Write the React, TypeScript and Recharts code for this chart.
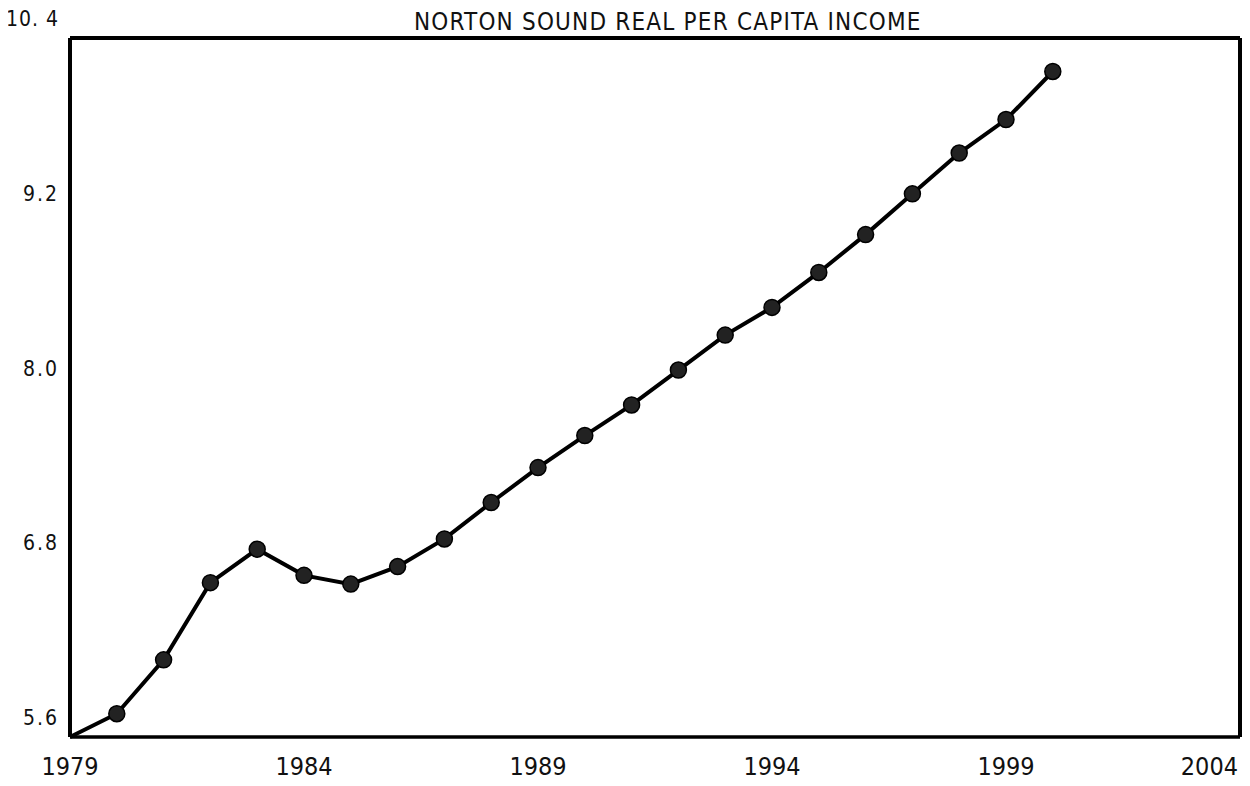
import { LineChart, Line, XAxis, YAxis, ReferenceLine } from 'recharts';

const years = [1979, 1980, 1981, 1982, 1983, 1984, 1985, 1986, 1987, 1988, 1989, 1990, 1991, 1992, 1993, 1994, 1995, 1996, 1997, 1998, 1999, 2000];
const income = [5.6, 5.76, 6.13, 6.66, 6.89, 6.71, 6.65, 6.77, 6.96, 7.21, 7.45, 7.67, 7.88, 8.12, 8.36, 8.55, 8.79, 9.05, 9.33, 9.61, 9.84, 10.17];
const xTicks = [1979, 1984, 1989, 1994, 1999, 2004];
const yTicks = [5.6, 6.8, 8.0, 9.2, 10.4];

const data = years.map((year, i) => ({ year, income: income[i] }));

const font = "'Liberation Sans Narrow', 'DejaVu Sans Condensed', 'Noto Sans', sans-serif";

function XTick({ x, y, payload }: any) {
  const last = payload.value === 2004;
  return (
    <text x={last ? x + 4 : x} y={y + 30} textAnchor={last ? 'end' : 'middle'} fontFamily={font} fontSize={25} fill="#111">
      {payload.value}
    </text>
  );
}

function YTick({ x, y, payload }: any) {
  const top = payload.value === 10.4;
  return (
    <text x={x - 3} y={y - 12} textAnchor="end" fontFamily={font} fontSize={21} letterSpacing={top ? 1 : 2} fill="#111">
      {top ? '10. 4' : payload.value.toFixed(1)}
    </text>
  );
}

function Dot({ cx, cy, index }: any) {
  if (index === 0) return <g key={index} />;
  return <circle key={index} cx={cx} cy={cy} r={8} fill="#222" stroke="#000" strokeWidth={1.5} />;
}

export default function App() {
  return (
    <div style={{ position: 'relative', width: 1250, height: 786, margin: -8 }}>
      <div style={{ position: 'absolute', left: 414, top: 8, fontFamily: font, fontSize: 24, color: '#111', letterSpacing: 1.2, whiteSpace: 'nowrap' }}>
        NORTON SOUND REAL PER CAPITA INCOME
      </div>
      <LineChart width={1250} height={786} data={data} margin={{ top: 38, right: 10, bottom: 9, left: 15 }}>
        <XAxis
          dataKey="year"
          type="number"
          domain={[1979, 2004]}
          ticks={xTicks}
          tick={<XTick />}
          tickLine={false}
          axisLine={{ stroke: '#000', strokeWidth: 3.5 }}
          height={40}
        />
        <YAxis
          type="number"
          domain={[5.6, 10.4]}
          ticks={yTicks}
          tick={<YTick />}
          tickLine={false}
          axisLine={{ stroke: '#000', strokeWidth: 4 }}
          width={55}
        />
        <ReferenceLine y={10.4} stroke="#000" strokeWidth={4} />
        <ReferenceLine x={2004} stroke="#000" strokeWidth={4} />
        <Line
          dataKey="income"
          stroke="#000"
          strokeWidth={4}
          dot={<Dot />}
          isAnimationActive={false}
        />
      </LineChart>
    </div>
  );
}
